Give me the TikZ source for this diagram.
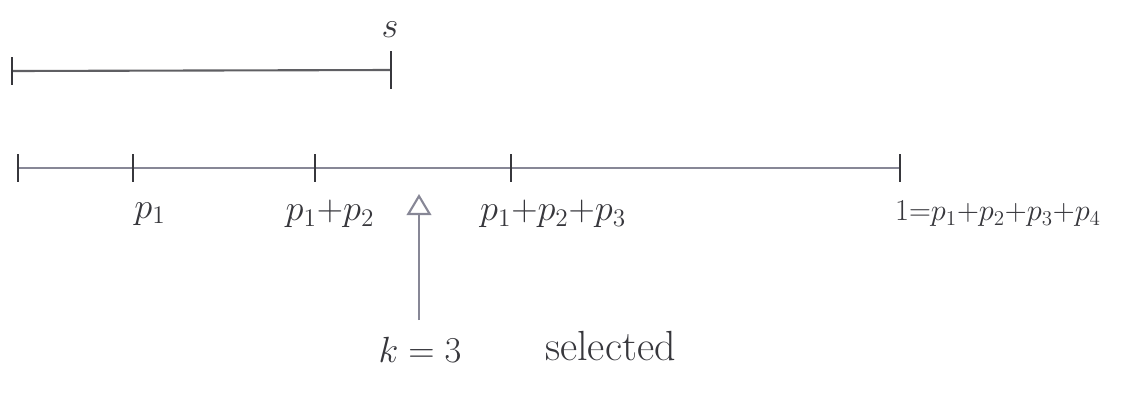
\documentclass[tikz,border=0pt]{standalone}
\usepackage{amsmath}
\usetikzlibrary{arrows.meta,positioning}
\definecolor{penline}{RGB}{135,135,150}
\definecolor{penink}{RGB}{55,55,60}
\newcommand{\tickmark}[2]{\draw[penink,line width=1.1pt] (#1) ++(0,-#2) -- ++(0,2*#2);}
\tikzset{
  lab/.style={font=\fontsize{20}{24}\selectfont,text=penink,inner sep=1pt},
  bar/.style={penline,line width=1.2pt}
}

\begin{document}
\begin{tikzpicture}[x=0.02cm,y=-0.02cm]
  \useasboundingbox (0,0) rectangle (1137,400);
  % upper segment of length s
  \coordinate (s0) at (12,71);
  \coordinate (s1) at (391,70);
  \draw[bar,penink!80] (s0) -- (s1);
  \tickmark{s0}{14}\tickmark{s1}{19}
  \node[lab] (slab) at (390,30) {$s$};
  % unit interval split by cumulative sums
  \coordinate (c0) at (18,168);
  \coordinate (c1) at (133,168);
  \coordinate (c2) at (315,168);
  \coordinate (c3) at (511,168);
  \coordinate (c4) at (900,168);
  \draw[bar] (c0) -- (c4);
  \foreach \c in {c0,c1,c2,c3,c4}{\tickmark{\c}{14}}
  \node[lab] (lp1) at (150,214) {$p_1$};
  \node[lab] (lp2) at (330,214) {$p_1{+}p_2$};
  \node[lab,anchor=west] (lp3) at (478,214) {$p_1{+}p_2{+}p_3$};
  \node[lab,anchor=west,font=\fontsize{18}{22}\selectfont] (lp4) at (893,214) {$1{=}p_1{+}p_2{+}p_3{+}p_4$};
  % selection arrow
  \coordinate (kbase) at (419,320);
  \coordinate (ktip) at (419,194);
  \draw[bar,-{Triangle[open,length=12pt,width=14pt]}] (kbase) -- (ktip);
  \node[lab] (klab) at (420,350) {$k=3$};
  \node[lab,anchor=west,font=\fontsize{24}{28}\selectfont] (sel) at (543,346) {selected};
\end{tikzpicture}
\end{document}
